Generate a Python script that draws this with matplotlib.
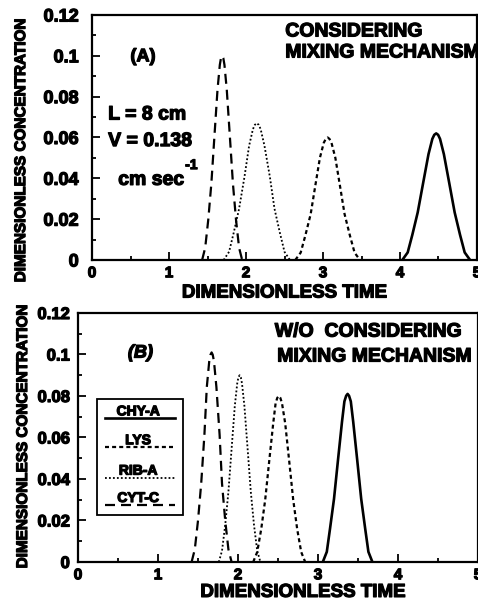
import matplotlib
matplotlib.use('Agg')
from matplotlib import pyplot as plt
from matplotlib.patches import Rectangle
from matplotlib.text import Text
import matplotlib.patheffects as pe

plt.rcParams['font.family'] = ['Liberation Sans', 'DejaVu Sans']
plt.rcParams['font.weight'] = 'bold'

# panel A: considering mixing mechanism
a_chy_x = [4.03, 4.10, 4.16, 4.23, 4.30, 4.37, 4.42, 4.445, 4.47, 4.495, 4.52, 4.57, 4.64, 4.71, 4.78, 4.84, 4.91]
a_chy_y = [0, 0.0037, 0.0123, 0.0233, 0.0376, 0.0518, 0.0593, 0.0613, 0.062, 0.0613, 0.0593, 0.0518, 0.0376, 0.0233, 0.0123, 0.0037, 0]
a_lys_x = [2.64, 2.71, 2.77, 2.84, 2.90, 2.96, 3.01, 3.036, 3.06, 3.084, 3.11, 3.16, 3.22, 3.28, 3.35, 3.41, 3.48]
a_lys_y = [0, 0.0036, 0.0119, 0.0225, 0.0364, 0.0501, 0.0574, 0.0593, 0.060, 0.0593, 0.0574, 0.0501, 0.0364, 0.0225, 0.0119, 0.0036, 0]
a_rib_x = [1.71, 1.78, 1.84, 1.91, 1.98, 2.04, 2.09, 2.115, 2.14, 2.165, 2.19, 2.24, 2.31, 2.37, 2.44, 2.50, 2.57]
a_rib_y = [0, 0.0040, 0.0133, 0.0251, 0.0407, 0.0559, 0.0641, 0.0662, 0.067, 0.0662, 0.0641, 0.0559, 0.0407, 0.0251, 0.0133, 0.0040, 0]
a_cyt_x = [1.43, 1.47, 1.51, 1.55, 1.59, 1.63, 1.66, 1.675, 1.69, 1.705, 1.72, 1.75, 1.79, 1.83, 1.87, 1.91, 1.95]
a_cyt_y = [0, 0.006, 0.0198, 0.0375, 0.0607, 0.0835, 0.0956, 0.0989, 0.100, 0.0989, 0.0956, 0.0835, 0.0607, 0.0375, 0.0198, 0.006, 0]

# panel B: without mixing mechanism
b_chy_x = [3.06, 3.11, 3.15, 3.20, 3.25, 3.30, 3.33, 3.352, 3.37, 3.388, 3.41, 3.44, 3.49, 3.54, 3.59, 3.63, 3.68]
b_chy_y = [0, 0.0049, 0.0160, 0.0304, 0.0492, 0.0676, 0.0774, 0.0801, 0.081, 0.0801, 0.0774, 0.0676, 0.0492, 0.0304, 0.0160, 0.0049, 0]
b_lys_x = [2.19, 2.24, 2.29, 2.34, 2.39, 2.44, 2.47, 2.491, 2.51, 2.529, 2.55, 2.59, 2.64, 2.69, 2.74, 2.79, 2.84]
b_lys_y = [0, 0.0048, 0.0158, 0.030, 0.0486, 0.0668, 0.0765, 0.0791, 0.080, 0.0791, 0.0765, 0.0668, 0.0486, 0.030, 0.0158, 0.0048, 0]
b_rib_x = [1.76, 1.80, 1.84, 1.88, 1.92, 1.96, 1.99, 2.005, 2.02, 2.035, 2.05, 2.08, 2.12, 2.16, 2.20, 2.24, 2.28]
b_rib_y = [0, 0.0054, 0.0178, 0.0338, 0.0546, 0.0752, 0.0860, 0.0890, 0.090, 0.0890, 0.0860, 0.0752, 0.0546, 0.0338, 0.0178, 0.0054, 0]
b_cyt_x = [1.42, 1.46, 1.50, 1.54, 1.58, 1.61, 1.64, 1.656, 1.67, 1.684, 1.70, 1.73, 1.77, 1.80, 1.84, 1.88, 1.92]
b_cyt_y = [0, 0.0061, 0.0200, 0.0379, 0.0613, 0.0843, 0.0966, 0.0999, 0.101, 0.0999, 0.0966, 0.0843, 0.0613, 0.0379, 0.0200, 0.0061, 0]

proteins = ['CHY-A', 'LYS', 'RIB-A', 'CYT-C']
x_ticks = [0, 1, 2, 3, 4, 5]
y_ticks = [0, 0.02, 0.04, 0.06, 0.08, 0.1, 0.12]
y_ticklabels = ['0', '0.02', '0.04', '0.06', '0.08', '0.1', '0.12']

styles = {
    'CHY-A': dict(color='black', lw=1.9, linestyle='-'),
    'LYS': dict(color='black', lw=1.6, linestyle=(0, (1.8, 1.4))),
    'RIB-A': dict(color='black', lw=1.3, linestyle=(0, (1.0, 1.2))),
    'CYT-C': dict(color='black', lw=1.6, linestyle=(0, (4.5, 2.7))),
}


def setup_axes(ax, ysize, ypad):
    ax.set_xlim(0, 5)
    ax.set_ylim(0, 0.12)
    ax.set_xticks(x_ticks)
    ax.set_xticks([0.5, 1.5, 2.5, 3.5, 4.5], minor=True)
    ax.set_yticks(y_ticks)
    ax.set_yticklabels(y_ticklabels)
    ax.set_yticks([0.01, 0.03, 0.05, 0.07, 0.09, 0.11], minor=True)
    ax.tick_params(which='both', direction='in', top=False, right=False, width=1.3)
    ax.tick_params(which='major', length=6)
    ax.tick_params(which='minor', length=3)
    ax.tick_params(axis='x', which='major', labelsize=11, pad=4.5)
    ax.tick_params(axis='y', which='major', labelsize=ysize, pad=ypad)
    for s in ax.spines.values():
        s.set_linewidth(1.6)
    for lab in ax.get_xticklabels() + ax.get_yticklabels():
        lab.set_fontweight('bold')


fig = plt.figure(figsize=(4.78, 6.01), dpi=100)

# ---- panel A
ax1 = fig.add_axes([0.1925, 0.5674, 0.8054, 0.4077])
setup_axes(ax1, 13, 9.5)
ax1.plot(a_chy_x, a_chy_y, **styles['CHY-A'])
ax1.plot(a_lys_x, a_lys_y, **styles['LYS'])
ax1.plot(a_rib_x, a_rib_y, **styles['RIB-A'])
ax1.plot(a_cyt_x, a_cyt_y, **styles['CYT-C'])
ax1.set_xlabel('DIMENSIONLESS TIME', fontsize=13.5, fontweight='bold')
ax1.xaxis.set_label_coords(0.5, -0.1)
ax1.set_ylabel('DIMENSIONLESS CONCENTRATION', fontsize=11, fontweight='bold')
ax1.yaxis.set_label_coords(-0.166, 0.445)
ax1.text(0.66, 0.0995, '(A)', fontsize=13, fontweight='bold', ha='center', va='center')
ax1.text(0.21, 0.071, 'L = 8 cm', fontsize=14, fontweight='bold', va='center')
ax1.text(0.21, 0.058, 'V = 0.138', fontsize=14, fontweight='bold', va='center')
ax1.text(0.34, 0.039, 'cm sec', fontsize=14, fontweight='bold', va='center')
ax1.text(1.21, 0.0465, '-1', fontsize=10, fontweight='bold', va='center')
ax1.text(2.51, 0.1117, 'CONSIDERING', fontsize=14, fontweight='bold', va='center')
ax1.text(2.51, 0.1014, 'MIXING MECHANISM', fontsize=14, fontweight='bold', va='center')

# ---- panel B
ax2 = fig.add_axes([0.1632, 0.0649, 0.8368, 0.4143])
setup_axes(ax2, 12, 6)
ax2.plot(b_chy_x, b_chy_y, **styles['CHY-A'])
ax2.plot(b_lys_x, b_lys_y, **styles['LYS'])
ax2.plot(b_rib_x, b_rib_y, **styles['RIB-A'])
ax2.plot(b_cyt_x, b_cyt_y, **styles['CYT-C'])
ax2.set_xlabel('DIMENSIONLESS TIME', fontsize=13.5, fontweight='bold')
ax2.xaxis.set_label_coords(0.5625, -0.088)
ax2.set_ylabel('DIMENSIONLESS CONCENTRATION', fontsize=11, fontweight='bold')
ax2.yaxis.set_label_coords(-0.12, 0.502)
ax2.text(0.78, 0.1007, '(B)', fontsize=13, fontweight='bold', style='italic',
         ha='center', va='center')
ax2.text(2.46, 0.1108, 'W/O  CONSIDERING', fontsize=14, fontweight='bold', va='center')
ax2.text(2.49, 0.0988, 'MIXING MECHANISM', fontsize=14, fontweight='bold', va='center')

# hand drawn style legend: label sitting just above a line sample
ax2.add_patch(Rectangle((0.0475, 0.189), 0.215, 0.466, transform=ax2.transAxes,
                        fill=False, lw=1.3, ec='black'))
leg_line_y = [0.577, 0.461, 0.339, 0.229]
for name, ly in zip(proteins, leg_line_y):
    ax2.plot([0.0675, 0.2425], [ly, ly], transform=ax2.transAxes, **styles[name])
    ax2.text(0.15, ly + 0.012, name, transform=ax2.transAxes, fontsize=10,
             fontweight='bold', ha='center', va='baseline')

# heavy print look for all texts
for t in fig.findobj(Text):
    t.set_path_effects([pe.withStroke(linewidth=0.9, foreground='black')])

plt.savefig('out.png', dpi=100)
